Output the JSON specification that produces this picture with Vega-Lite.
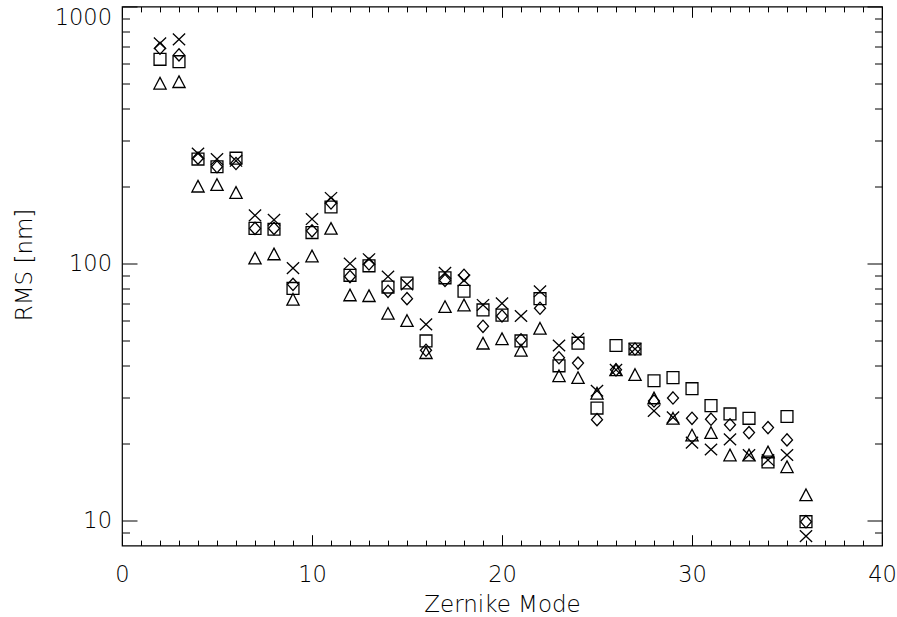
{
  "$schema": "https://vega.github.io/schema/vega-lite/v6.json",
  "width": 760,
  "height": 539,
  "autosize": {"type": "none"},
  "padding": {"left": 122, "top": 6.5, "right": 15, "bottom": 71.5},
  "background": "white",
  "config": {
    "view": {"stroke": "black", "strokeWidth": 1.2},
    "axis": {
      "labelFont": "DejaVu Sans", "titleFont": "DejaVu Sans",
      "labelFontSize": 22.5, "titleFontSize": 23,
      "labelFontWeight": 200, "titleFontWeight": 200,
      "labelColor": "black", "titleColor": "black",
      "grid": false, "domain": false, "tickColor": "black", "tickWidth": 1
    }
  },
  "datasets": {
    "pts": [
      {"mode": 2, "series": "cross", "rms": 719}, {"mode": 2, "series": "diamond", "rms": 688}, {"mode": 2, "series": "square", "rms": 623}, {"mode": 2, "series": "triangle", "rms": 503},
      {"mode": 3, "series": "cross", "rms": 745}, {"mode": 3, "series": "diamond", "rms": 648}, {"mode": 3, "series": "square", "rms": 610}, {"mode": 3, "series": "triangle", "rms": 510},
      {"mode": 4, "series": "cross", "rms": 268}, {"mode": 4, "series": "diamond", "rms": 257}, {"mode": 4, "series": "square", "rms": 255}, {"mode": 4, "series": "triangle", "rms": 200},
      {"mode": 5, "series": "cross", "rms": 255}, {"mode": 5, "series": "diamond", "rms": 238}, {"mode": 5, "series": "square", "rms": 238}, {"mode": 5, "series": "triangle", "rms": 203},
      {"mode": 6, "series": "cross", "rms": 251}, {"mode": 6, "series": "diamond", "rms": 245}, {"mode": 6, "series": "square", "rms": 257}, {"mode": 6, "series": "triangle", "rms": 189},
      {"mode": 7, "series": "cross", "rms": 154}, {"mode": 7, "series": "diamond", "rms": 137}, {"mode": 7, "series": "square", "rms": 137}, {"mode": 7, "series": "triangle", "rms": 105},
      {"mode": 8, "series": "cross", "rms": 148}, {"mode": 8, "series": "diamond", "rms": 137}, {"mode": 8, "series": "square", "rms": 136}, {"mode": 8, "series": "triangle", "rms": 109},
      {"mode": 9, "series": "cross", "rms": 96}, {"mode": 9, "series": "diamond", "rms": 83}, {"mode": 9, "series": "square", "rms": 80}, {"mode": 9, "series": "triangle", "rms": 72.6},
      {"mode": 10, "series": "cross", "rms": 149}, {"mode": 10, "series": "diamond", "rms": 134}, {"mode": 10, "series": "square", "rms": 132}, {"mode": 10, "series": "triangle", "rms": 107},
      {"mode": 11, "series": "cross", "rms": 180}, {"mode": 11, "series": "diamond", "rms": 172}, {"mode": 11, "series": "square", "rms": 166}, {"mode": 11, "series": "triangle", "rms": 137},
      {"mode": 12, "series": "cross", "rms": 100}, {"mode": 12, "series": "diamond", "rms": 89}, {"mode": 12, "series": "square", "rms": 90}, {"mode": 12, "series": "triangle", "rms": 75.5},
      {"mode": 13, "series": "cross", "rms": 104}, {"mode": 13, "series": "diamond", "rms": 99.6}, {"mode": 13, "series": "square", "rms": 98}, {"mode": 13, "series": "triangle", "rms": 75},
      {"mode": 14, "series": "cross", "rms": 89}, {"mode": 14, "series": "diamond", "rms": 78}, {"mode": 14, "series": "square", "rms": 81}, {"mode": 14, "series": "triangle", "rms": 64},
      {"mode": 15, "series": "cross", "rms": 83}, {"mode": 15, "series": "diamond", "rms": 73}, {"mode": 15, "series": "square", "rms": 84}, {"mode": 15, "series": "triangle", "rms": 60},
      {"mode": 16, "series": "cross", "rms": 58}, {"mode": 16, "series": "diamond", "rms": 46}, {"mode": 16, "series": "square", "rms": 50}, {"mode": 16, "series": "triangle", "rms": 45},
      {"mode": 17, "series": "cross", "rms": 92}, {"mode": 17, "series": "diamond", "rms": 86}, {"mode": 17, "series": "square", "rms": 88}, {"mode": 17, "series": "triangle", "rms": 68},
      {"mode": 18, "series": "cross", "rms": 86}, {"mode": 18, "series": "diamond", "rms": 90}, {"mode": 18, "series": "square", "rms": 78}, {"mode": 18, "series": "triangle", "rms": 69},
      {"mode": 19, "series": "cross", "rms": 69}, {"mode": 19, "series": "diamond", "rms": 57}, {"mode": 19, "series": "square", "rms": 66}, {"mode": 19, "series": "triangle", "rms": 49},
      {"mode": 20, "series": "cross", "rms": 70}, {"mode": 20, "series": "diamond", "rms": 62.5}, {"mode": 20, "series": "square", "rms": 63}, {"mode": 20, "series": "triangle", "rms": 51},
      {"mode": 21, "series": "cross", "rms": 62.5}, {"mode": 21, "series": "diamond", "rms": 50.5}, {"mode": 21, "series": "square", "rms": 50}, {"mode": 21, "series": "triangle", "rms": 46},
      {"mode": 22, "series": "cross", "rms": 78}, {"mode": 22, "series": "diamond", "rms": 67}, {"mode": 22, "series": "square", "rms": 73}, {"mode": 22, "series": "triangle", "rms": 56},
      {"mode": 23, "series": "cross", "rms": 48}, {"mode": 23, "series": "diamond", "rms": 43}, {"mode": 23, "series": "square", "rms": 40}, {"mode": 23, "series": "triangle", "rms": 36.6},
      {"mode": 24, "series": "cross", "rms": 51}, {"mode": 24, "series": "diamond", "rms": 41}, {"mode": 24, "series": "square", "rms": 49}, {"mode": 24, "series": "triangle", "rms": 36},
      {"mode": 25, "series": "cross", "rms": 32}, {"mode": 25, "series": "diamond", "rms": 24.7}, {"mode": 25, "series": "square", "rms": 27.4}, {"mode": 25, "series": "triangle", "rms": 31.3},
      {"mode": 26, "series": "cross", "rms": 38.6}, {"mode": 26, "series": "diamond", "rms": 38.6}, {"mode": 26, "series": "square", "rms": 48}, {"mode": 26, "series": "triangle", "rms": 38.6},
      {"mode": 27, "series": "cross", "rms": 46.5}, {"mode": 27, "series": "diamond", "rms": 46.5}, {"mode": 27, "series": "square", "rms": 46.5}, {"mode": 27, "series": "triangle", "rms": 37},
      {"mode": 28, "series": "cross", "rms": 26.7}, {"mode": 28, "series": "diamond", "rms": 29.2}, {"mode": 28, "series": "square", "rms": 35}, {"mode": 28, "series": "triangle", "rms": 30},
      {"mode": 29, "series": "cross", "rms": 25.2}, {"mode": 29, "series": "diamond", "rms": 30}, {"mode": 29, "series": "square", "rms": 36}, {"mode": 29, "series": "triangle", "rms": 25},
      {"mode": 30, "series": "cross", "rms": 20.1}, {"mode": 30, "series": "diamond", "rms": 25}, {"mode": 30, "series": "square", "rms": 32.6}, {"mode": 30, "series": "triangle", "rms": 21.5},
      {"mode": 31, "series": "cross", "rms": 18.9}, {"mode": 31, "series": "diamond", "rms": 24.8}, {"mode": 31, "series": "square", "rms": 28}, {"mode": 31, "series": "triangle", "rms": 22},
      {"mode": 32, "series": "cross", "rms": 20.7}, {"mode": 32, "series": "diamond", "rms": 23.6}, {"mode": 32, "series": "square", "rms": 26}, {"mode": 32, "series": "triangle", "rms": 18},
      {"mode": 33, "series": "cross", "rms": 18}, {"mode": 33, "series": "diamond", "rms": 22}, {"mode": 33, "series": "square", "rms": 25}, {"mode": 33, "series": "triangle", "rms": 18},
      {"mode": 34, "series": "cross", "rms": 17.2}, {"mode": 34, "series": "diamond", "rms": 23}, {"mode": 34, "series": "square", "rms": 16.9}, {"mode": 34, "series": "triangle", "rms": 18.5},
      {"mode": 35, "series": "cross", "rms": 18}, {"mode": 35, "series": "diamond", "rms": 20.6}, {"mode": 35, "series": "square", "rms": 25.4}, {"mode": 35, "series": "triangle", "rms": 16.2},
      {"mode": 36, "series": "cross", "rms": 8.7}, {"mode": 36, "series": "diamond", "rms": 9.9}, {"mode": 36, "series": "square", "rms": 9.9}, {"mode": 36, "series": "triangle", "rms": 12.6}
    ]
  },
  "data": {"name": "pts"},
  "layer": [
    {
      "mark": {"type": "point", "filled": false, "color": "black", "strokeWidth": 1.3, "size": 150, "opacity": 1},
      "encoding": {
        "x": {"field": "mode", "type": "quantitative", "scale": {"domain": [0, 40], "nice": false, "zero": false},
              "axis": {"orient": "bottom", "values": [0, 10, 20, 30, 40], "ticks": false, "labelPadding": 17.5, "labelFlush": false, "title": "Zernike Mode", "titlePadding": 8}},
        "y": {"field": "rms", "type": "quantitative", "scale": {"type": "log", "domain": [8, 1000], "nice": false},
              "axis": {"orient": "left", "values": [10, 100, 1000], "format": "d", "ticks": false, "labelPadding": 10.5, "labelFlush": true, "title": "RMS [nm]", "titlePadding": 18, "titleY": 258}},
        "shape": {"field": "series", "type": "nominal", "legend": null,
                  "scale": {"domain": ["square", "diamond", "triangle", "cross"],
                            "range": ["M-0.97,-0.97H0.97V0.97H-0.97Z", "M0,-1L0.9,0L0,1L-0.9,0Z", "M0,-0.95L1,0.95L-1,0.95Z", "M-1,-0.95L1,0.95M-1,0.95L1,-0.95"]}}
      }
    },
    {
      "mark": {"type": "point", "opacity": 0},
      "encoding": {
        "x": {"field": "mode", "type": "quantitative", "scale": {"domain": [0, 40], "nice": false, "zero": false},
              "axis": {"orient": "bottom", "values": [0, 10, 20, 30, 40], "tickSize": -10.8, "labels": false, "title": null}},
        "y": {"field": "rms", "type": "quantitative", "scale": {"type": "log", "domain": [8, 1000], "nice": false},
              "axis": {"orient": "left", "values": [10, 100, 1000], "tickSize": -15, "labels": false, "title": null}}
      }
    },
    {
      "mark": {"type": "point", "opacity": 0},
      "encoding": {
        "x": {"field": "mode", "type": "quantitative", "scale": {"domain": [0, 40], "nice": false, "zero": false},
              "axis": {"orient": "bottom", "values": [1,2,3,4,5,6,7,8,9,11,12,13,14,15,16,17,18,19,21,22,23,24,25,26,27,28,29,31,32,33,34,35,36,37,38,39], "tickSize": -5.4, "labels": false, "title": null}},
        "y": {"field": "rms", "type": "quantitative", "scale": {"type": "log", "domain": [8, 1000], "nice": false},
              "axis": {"orient": "left", "values": [9, 20, 30, 40, 50, 60, 70, 80, 90, 200, 300, 400, 500, 600, 700, 800, 900], "tickSize": -7.5, "labels": false, "title": null}}
      }
    },
    {
      "mark": {"type": "point", "opacity": 0},
      "encoding": {
        "x": {"field": "mode", "type": "quantitative", "scale": {"domain": [0, 40], "nice": false, "zero": false},
              "axis": {"orient": "top", "values": [0, 10, 20, 30, 40], "tickSize": -10.8, "labels": false, "title": null}},
        "y": {"field": "rms", "type": "quantitative", "scale": {"type": "log", "domain": [8, 1000], "nice": false},
              "axis": {"orient": "right", "values": [10, 100, 1000], "tickSize": -15, "labels": false, "title": null}}
      }
    },
    {
      "mark": {"type": "point", "opacity": 0},
      "encoding": {
        "x": {"field": "mode", "type": "quantitative", "scale": {"domain": [0, 40], "nice": false, "zero": false},
              "axis": {"orient": "top", "values": [1,2,3,4,5,6,7,8,9,11,12,13,14,15,16,17,18,19,21,22,23,24,25,26,27,28,29,31,32,33,34,35,36,37,38,39], "tickSize": -5.4, "labels": false, "title": null}},
        "y": {"field": "rms", "type": "quantitative", "scale": {"type": "log", "domain": [8, 1000], "nice": false},
              "axis": {"orient": "right", "values": [9, 20, 30, 40, 50, 60, 70, 80, 90, 200, 300, 400, 500, 600, 700, 800, 900], "tickSize": -7.5, "labels": false, "title": null}}
      }
    }
  ],
  "resolve": {"axis": {"x": "independent", "y": "independent"}}
}
